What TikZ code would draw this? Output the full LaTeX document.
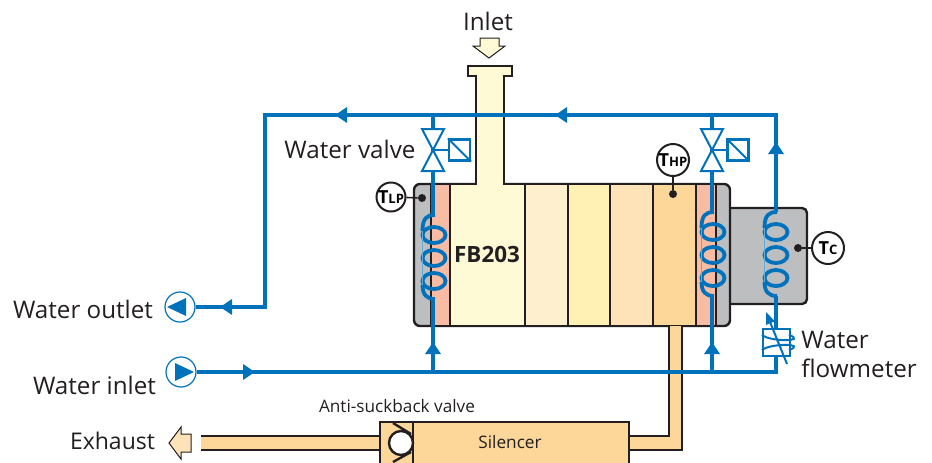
\documentclass[tikz,border=0pt]{standalone}
\usepackage{fontspec}
\setmainfont{Open Sans}
\usetikzlibrary{arrows.meta,shapes.geometric}
\definecolor{fbblue}{HTML}{0072BC}
\definecolor{fbink}{HTML}{231F20}
\definecolor{fbgrey}{HTML}{BCBEC0}
\definecolor{fbred}{HTML}{F8BBA3}
\definecolor{fbcream}{HTML}{FFFAD6}
\definecolor{fbsandA}{HTML}{FEF0CF}
\definecolor{fbsandB}{HTML}{FFF0B4}
\definecolor{fbsandC}{HTML}{FEE2B8}
\definecolor{fbsandD}{HTML}{FDD699}
\tikzset{
  wtr/.style={draw=fbblue, line width=2.2pt},
  arr/.style={-{Triangle[length=6pt, width=7.5pt]}, draw=fbblue, fill=fbblue, line width=2.2pt},
  vlv/.style={draw=fbblue, fill=white, line width=1pt, line join=miter},
  act/.style={draw=fbblue, fill=white, line width=1.1pt, minimum size=10.5pt, inner sep=0pt},
  coilline/.style={draw=fbblue, line width=1.9pt},
  wall/.style={draw=fbink, line width=1.2pt},
  pumpc/.style={circle, draw=fbblue, fill=white, line width=0.6pt, minimum size=15pt, inner sep=0pt},
  sens/.style={circle, draw=fbink, fill=white, line width=1pt, minimum size=16pt, inner sep=0pt, font=\fontsize{9}{9}\selectfont\bfseries},
  dot/.style={circle, fill=fbink, minimum size=4pt, inner sep=0pt},
  lbl/.style={font=\fontsize{12.1}{14}\selectfont, text=fbink, inner sep=0pt},
  lblsm/.style={font=\fontsize{8.6}{10}\selectfont, text=fbink, inner sep=0pt},
  coil/.pic={
    \foreach \dy in {-23,0,23} \draw[coilline] (0,\dy) ellipse [x radius=11.5, y radius=8];
    \draw[draw=fbblue!60, line width=0.4pt] (-11.5,-30) -- (-11.5,30);
    \draw[coilline] (1,-43) .. controls (-7,-43) and (-11.5,-40) .. (-11.5,-27);
    \draw[coilline] (-11.5,27) .. controls (-11.5,37) and (-7,41) .. (1,41);
  },
}
\newcommand{\smT}[1]{T{\fontsize{6.5}{7}\selectfont #1}}
\begin{document}
\begin{tikzpicture}[x=0.5pt, y=-0.5pt]
  \useasboundingbox (0,0) rectangle (932,462);
  % exchanger body
  \fill[fbgrey, rounded corners=2.5pt] (725,208) rectangle (807,304);
  \draw[wall, rounded corners=2.5pt] (729,208) -- (807,208) -- (807,304) -- (729,304);
  \filldraw[wall, fill=fbgrey, rounded corners=3pt] (414,184) rectangle (730,326);
  \filldraw[wall, fill=fbred] (431,184) rectangle (450,326);
  \filldraw[wall, fill=fbsandA] (525,184) rectangle (568,326);
  \filldraw[wall, fill=fbsandB] (568,184) rectangle (610,326);
  \filldraw[wall, fill=fbsandC] (610,184) rectangle (653,326);
  \filldraw[wall, fill=fbsandD] (653,184) rectangle (696,326);
  \filldraw[wall, fill=fbred] (696,184) rectangle (716,326);
  \filldraw[wall, fill=fbcream] (450,184) -- (476,184) -- (476,76) -- (468,76) -- (468,66) -- (512,66) -- (512,76) -- (504,76) -- (504,184) -- (525,184) -- (525,326) -- (450,326) -- cycle;
  \node[font=\fontsize{11.2}{14}\selectfont\bfseries, text=fbink, inner sep=0pt] (fb) at (487,254) {FB203};

  % inlet
  \node[lbl] (inlet) at (488,21) {Inlet};
  \filldraw[draw=fbink, line width=0.5pt, fill=fbcream] (480,38) -- (499,38) -- (499,46) -- (505,46) -- (489,58) -- (473,46) -- (480,46) -- cycle;

  % exhaust side
  \fill[fbsandD] (669,326) -- (682,326) -- (682,450) -- (600,450) -- (600,436) -- (669,436) -- cycle;
  \draw[wall] (669,326) -- (669,436) -- (600,436);
  \draw[wall] (682,326) -- (682,450) -- (600,450);
  \fill[fbsandD] (201,436) rectangle (400,450);
  \draw[wall] (201,436) -- (400,436);
  \draw[wall] (201,450) -- (400,450);
  \filldraw[wall, fill=fbsandD] (380,463) -- (380,422) -- (629,422) -- (629,463);
  \draw[wall] (413,422) -- (413,463);
  \draw[wall] (393,423) -- (411,434);
  \draw[wall] (393,462) -- (411,452);
  \node[circle, wall, fill=white, minimum size=12pt, inner sep=0pt] (ball) at (401,443) {};
  \node[lblsm] (sil) at (510,442) {Silencer};
  \node[lblsm] (anti) at (397,406) {Anti-suckback valve};
  \node[lbl, font=\fontsize{11.5}{14}\selectfont] (exh) at (112.5,441) {Exhaust};
  \filldraw[draw=fbink, line width=0.5pt, fill=fbsandC] (191,434) -- (181,434) -- (181,427) -- (169,443) -- (181,459) -- (181,452) -- (191,452) -- cycle;

  % water lines
  \node[pumpc] (pout) at (180,307) {};
  \node[pumpc] (pin) at (181,372) {};
  \fill[fbblue] (167,307) -- (186,298) -- (186,316) -- cycle;
  \fill[fbblue] (194,372) -- (175,363) -- (175,381) -- cycle;
  \coordinate (vlp) at (433,150);
  \coordinate (vhp) at (712,150);
  \coordinate (cr) at (776,115);
  \coordinate (crb) at (776,372);
  \coordinate (cl) at (265,115);
  \coordinate (clb) at (265,307);
  \draw[wtr, line join=miter] (pout.east) -- (clb) -- (cl) -- (cr) -- (776,212);
  \draw[wtr, line join=miter] (776,296) -- (crb) -- (pin.east);
  \draw[wtr] (433,115) -- (vlp);
  \draw[wtr] (vlp) -- (433,215);
  \draw[wtr] (433,299) -- (433,372);
  \draw[wtr] (712,115) -- (vhp);
  \draw[wtr] (vhp) -- (712,212);
  \draw[wtr] (712,296) -- (712,372);
  \pic at (434,258) {coil};
  \pic at (713,255) {coil};
  \pic at (776,255) {coil};

  % valves
  \foreach \nm/\ax in {vlp/459.5,vhp/738} {
    \draw[vlv] (\nm) -- +(-11,-21) -- +(11,-21) -- cycle;
    \draw[vlv] (\nm) -- +(-11,21) -- +(11,21) -- cycle;
    \node[act] (a\nm) at (\ax,150) {};
    \draw[vlv] (\nm) -- (a\nm.west);
    \draw[vlv] (a\nm.north west) -- (a\nm.south east);
  }
  \node[lbl] (wv) at (350,149) {Water valve};

  % flow arrows
  \draw[arr] (347,115) -- (335,115);
  \draw[arr] (567,115) -- (555,115);
  \draw[arr] (776,154) -- (776,142);
  \draw[arr] (433,354) -- (433,342);
  \draw[arr] (712,354) -- (712,342);
  \draw[arr] (232,307) -- (220,307);
  \draw[arr] (243,372) -- (255,372);

  % flowmeter
  \node[act, minimum size=13.5pt] (fm) at (776.5,342.5) {};
  \draw[vlv, fill=none] (fm.north west) ++(0,7) .. controls +(8,7) and +(19,7) .. +(27,0);
  \draw[vlv, fill=none] (fm.south west) ++(0,-7) .. controls +(8,-7) and +(19,-7) .. +(27,0);
  \draw[draw=fbblue, line width=1pt, -{Triangle[length=6pt, width=4.5pt]}] (787,364) -- (766,312);

  % temperature probes
  \node[sens, minimum size=14.5pt] (tlp) at (391,197) {\smT{LP}};
  \node[sens] (thp) at (673,160) {\smT{HP}};
  \node[sens] (tc) at (828,248) {\smT{C}};
  \node[dot] (dlp) at (422,198) {};
  \node[dot] (dhp) at (673,194) {};
  \node[dot] (dc) at (798,248) {};
  \draw[wall, line width=0.8pt] (tlp) -- (dlp);
  \draw[wall, line width=0.8pt] (thp) -- (dhp);
  \draw[wall, line width=0.8pt] (tc) -- (dc);

  % labels
  \node[lbl] (wo) at (83,309) {Water outlet};
  \node[lbl] (wi) at (94.5,385) {Water inlet};
  \node[lbl, anchor=west] (fa) at (801,340) {Water};
  \node[lbl, anchor=west] (fb2) at (801,368) {flowmeter};
\end{tikzpicture}
\end{document}
